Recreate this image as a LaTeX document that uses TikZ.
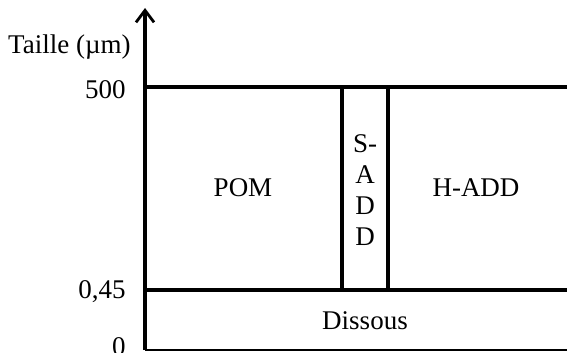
\documentclass[tikz,border=0pt]{standalone}
\usepackage{fontspec}
\setmainfont{Liberation Serif}
\usetikzlibrary{arrows.meta}
\begin{document}
\begin{tikzpicture}[x=0.5pt,y=-0.5pt,
  font=\fontsize{13.5}{15.5}\selectfont,
  bold line/.style={line width=1.6pt},
  axis line/.style={line width=1.6pt},
  lbl/.style={inner sep=0pt},
  ticklbl/.style={inner sep=0pt, anchor=east}]
\useasboundingbox (0,0) rectangle (567,353);
% coordinates
\coordinate (o) at (145,350);
\coordinate (top) at (145,8);
\coordinate (a500) at (145,87);
\coordinate (e500) at (567,87);
\coordinate (a045) at (145,290);
\coordinate (e045) at (567,290);
\coordinate (eo) at (567,350);
\coordinate (s1t) at (342,87);
\coordinate (s1b) at (342,290);
\coordinate (s2t) at (388,87);
\coordinate (s2b) at (388,290);
% axes
\draw[axis line, -{Straight Barb[length=6pt,width=9pt,line width=1.4pt]}] (o) -- (top);
\draw[line width=1.3pt] (o) -- (eo);
% boundaries
\draw[bold line] (a500) -- (e500);
\draw[bold line] (a045) -- (e045);
\draw[bold line] (s1t) -- (s1b);
\draw[bold line] (s2t) -- (s2b);
% labels
\node[ticklbl] (taille) at (131,47) {Taille (µm)};
\node[ticklbl] (l500) at (126,90) {500};
\node[ticklbl] (l045) at (126,292) {0,45};
\node[ticklbl] (l0) at (126,347) {0};
\node[lbl] (pom) at (243,188) {POM};
\node[lbl] (hadd) at (476,188) {H-ADD};
\node[lbl, align=center] (sadd) at (365,190) {S-\\A\\D\\D};
\node[lbl] (diss) at (365,321) {Dissous};
\end{tikzpicture}
\end{document}
